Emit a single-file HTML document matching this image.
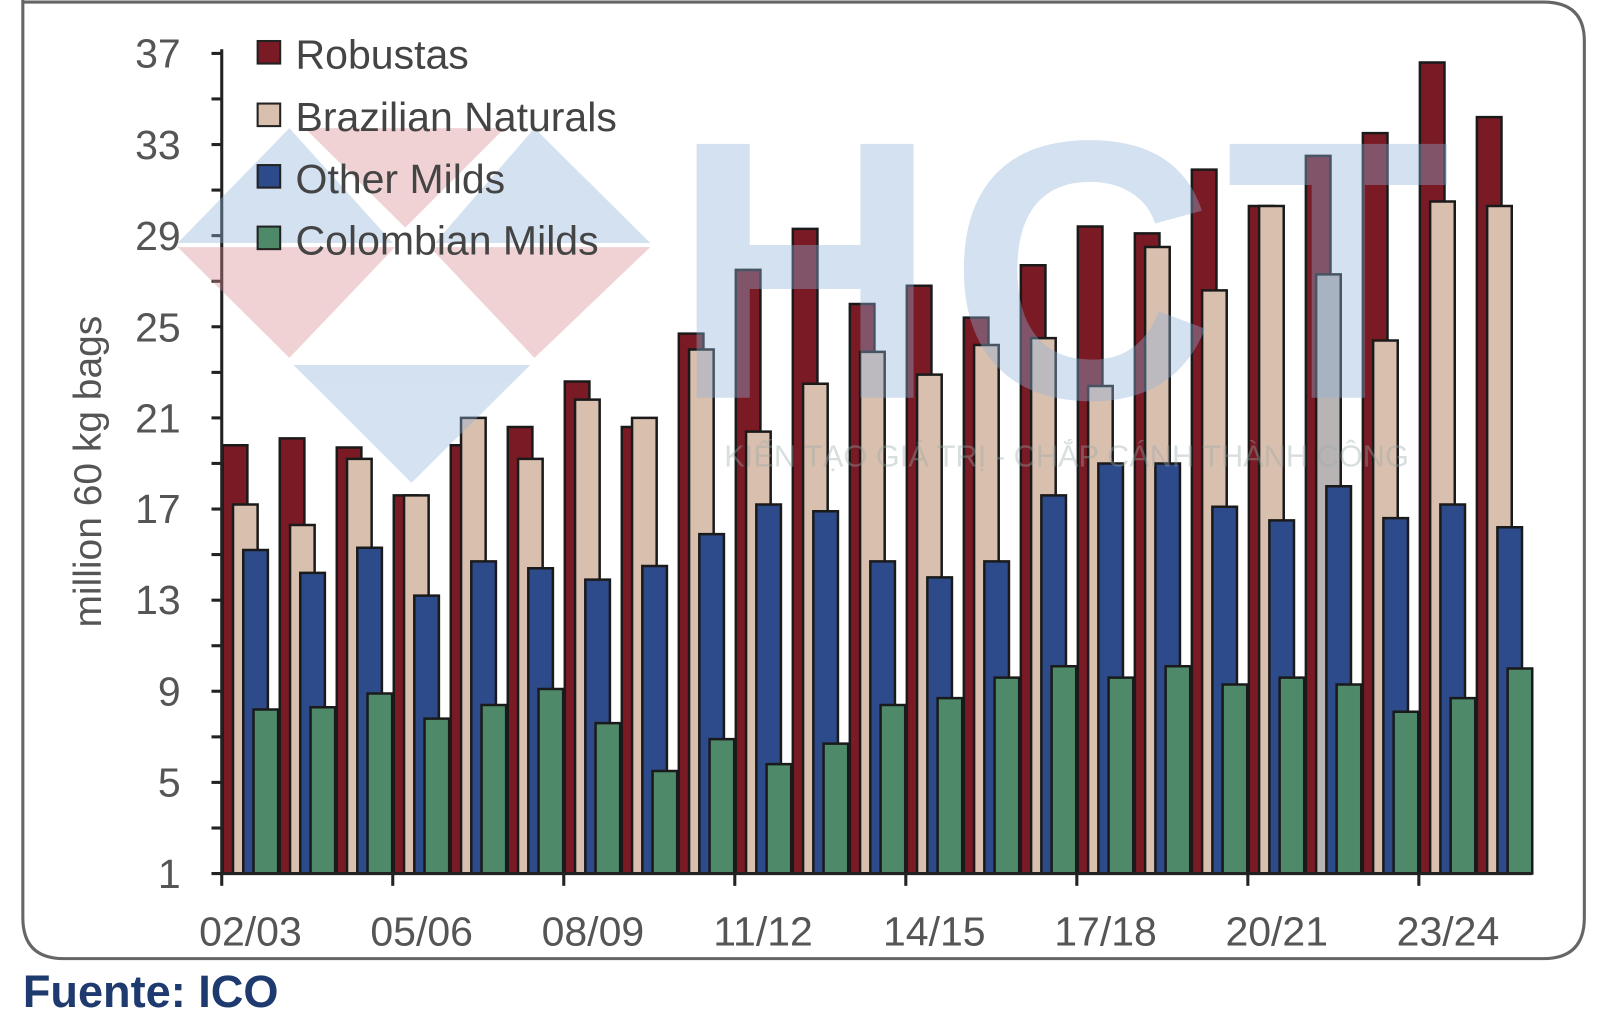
<!DOCTYPE html>
<html><head><meta charset="utf-8"><style>
html,body{margin:0;padding:0;background:#fff;}
svg{display:block;}
text{font-family:"Liberation Sans",sans-serif;}
</style></head><body>
<svg width="1600" height="1014" viewBox="0 0 1560 989" xmlns="http://www.w3.org/2000/svg">
<rect x="0" y="0" width="1560" height="989" fill="#fff"/>
<path d="M22,-2 L22,895 Q22,935 62,935 L1505,935 Q1545,935 1545,895 L1545,40 Q1545,2 1505,2 L22,2" fill="none" stroke="#666" stroke-width="3"/>
<g transform="translate(0,874.22) scale(1,-22.22)" stroke="#1a1a1a" stroke-width="2.5">
<g fill="#7a1a25">
<rect vector-effect="non-scaling-stroke" x="217" y="1" width="24" height="18.8"/>
<rect vector-effect="non-scaling-stroke" x="272.6" y="1" width="24" height="19.1"/>
<rect vector-effect="non-scaling-stroke" x="328.2" y="1" width="24" height="18.7"/>
<rect vector-effect="non-scaling-stroke" x="383.8" y="1" width="24" height="16.6"/>
<rect vector-effect="non-scaling-stroke" x="439.4" y="1" width="24" height="18.8"/>
<rect vector-effect="non-scaling-stroke" x="495" y="1" width="24" height="19.6"/>
<rect vector-effect="non-scaling-stroke" x="550.6" y="1" width="24" height="21.6"/>
<rect vector-effect="non-scaling-stroke" x="606.2" y="1" width="24" height="19.6"/>
<rect vector-effect="non-scaling-stroke" x="661.8" y="1" width="24" height="23.7"/>
<rect vector-effect="non-scaling-stroke" x="717.4" y="1" width="24" height="26.5"/>
<rect vector-effect="non-scaling-stroke" x="773" y="1" width="24" height="28.3"/>
<rect vector-effect="non-scaling-stroke" x="828.6" y="1" width="24" height="25"/>
<rect vector-effect="non-scaling-stroke" x="884.2" y="1" width="24" height="25.8"/>
<rect vector-effect="non-scaling-stroke" x="939.8" y="1" width="24" height="24.4"/>
<rect vector-effect="non-scaling-stroke" x="995.4" y="1" width="24" height="26.7"/>
<rect vector-effect="non-scaling-stroke" x="1051" y="1" width="24" height="28.4"/>
<rect vector-effect="non-scaling-stroke" x="1106.6" y="1" width="24" height="28.1"/>
<rect vector-effect="non-scaling-stroke" x="1162.2" y="1" width="24" height="30.9"/>
<rect vector-effect="non-scaling-stroke" x="1217.8" y="1" width="24" height="29.3"/>
<rect vector-effect="non-scaling-stroke" x="1273.4" y="1" width="24" height="31.5"/>
<rect vector-effect="non-scaling-stroke" x="1329" y="1" width="24" height="32.5"/>
<rect vector-effect="non-scaling-stroke" x="1384.6" y="1" width="24" height="35.6"/>
<rect vector-effect="non-scaling-stroke" x="1440.2" y="1" width="24" height="33.2"/>
</g>
<g fill="#d9bfae">
<rect vector-effect="non-scaling-stroke" x="227" y="1" width="24" height="16.2"/>
<rect vector-effect="non-scaling-stroke" x="282.6" y="1" width="24" height="15.3"/>
<rect vector-effect="non-scaling-stroke" x="338.2" y="1" width="24" height="18.2"/>
<rect vector-effect="non-scaling-stroke" x="393.8" y="1" width="24" height="16.6"/>
<rect vector-effect="non-scaling-stroke" x="449.4" y="1" width="24" height="20"/>
<rect vector-effect="non-scaling-stroke" x="505" y="1" width="24" height="18.2"/>
<rect vector-effect="non-scaling-stroke" x="560.6" y="1" width="24" height="20.8"/>
<rect vector-effect="non-scaling-stroke" x="616.2" y="1" width="24" height="20"/>
<rect vector-effect="non-scaling-stroke" x="671.8" y="1" width="24" height="23"/>
<rect vector-effect="non-scaling-stroke" x="727.4" y="1" width="24" height="19.4"/>
<rect vector-effect="non-scaling-stroke" x="783" y="1" width="24" height="21.5"/>
<rect vector-effect="non-scaling-stroke" x="838.6" y="1" width="24" height="22.9"/>
<rect vector-effect="non-scaling-stroke" x="894.2" y="1" width="24" height="21.9"/>
<rect vector-effect="non-scaling-stroke" x="949.8" y="1" width="24" height="23.2"/>
<rect vector-effect="non-scaling-stroke" x="1005.4" y="1" width="24" height="23.5"/>
<rect vector-effect="non-scaling-stroke" x="1061" y="1" width="24" height="21.4"/>
<rect vector-effect="non-scaling-stroke" x="1116.6" y="1" width="24" height="27.5"/>
<rect vector-effect="non-scaling-stroke" x="1172.2" y="1" width="24" height="25.6"/>
<rect vector-effect="non-scaling-stroke" x="1227.8" y="1" width="24" height="29.3"/>
<rect vector-effect="non-scaling-stroke" x="1283.4" y="1" width="24" height="26.3" fill="#b8b4b4"/>
<rect vector-effect="non-scaling-stroke" x="1339" y="1" width="24" height="23.4"/>
<rect vector-effect="non-scaling-stroke" x="1394.6" y="1" width="24" height="29.5"/>
<rect vector-effect="non-scaling-stroke" x="1450.2" y="1" width="24" height="29.3"/>
</g>
<g fill="#2d4a8a">
<rect vector-effect="non-scaling-stroke" x="237" y="1" width="24" height="14.2"/>
<rect vector-effect="non-scaling-stroke" x="292.6" y="1" width="24" height="13.2"/>
<rect vector-effect="non-scaling-stroke" x="348.2" y="1" width="24" height="14.3"/>
<rect vector-effect="non-scaling-stroke" x="403.8" y="1" width="24" height="12.2"/>
<rect vector-effect="non-scaling-stroke" x="459.4" y="1" width="24" height="13.7"/>
<rect vector-effect="non-scaling-stroke" x="515" y="1" width="24" height="13.4"/>
<rect vector-effect="non-scaling-stroke" x="570.6" y="1" width="24" height="12.9"/>
<rect vector-effect="non-scaling-stroke" x="626.2" y="1" width="24" height="13.5"/>
<rect vector-effect="non-scaling-stroke" x="681.8" y="1" width="24" height="14.9"/>
<rect vector-effect="non-scaling-stroke" x="737.4" y="1" width="24" height="16.2"/>
<rect vector-effect="non-scaling-stroke" x="793" y="1" width="24" height="15.9"/>
<rect vector-effect="non-scaling-stroke" x="848.6" y="1" width="24" height="13.7"/>
<rect vector-effect="non-scaling-stroke" x="904.2" y="1" width="24" height="13"/>
<rect vector-effect="non-scaling-stroke" x="959.8" y="1" width="24" height="13.7"/>
<rect vector-effect="non-scaling-stroke" x="1015.4" y="1" width="24" height="16.6"/>
<rect vector-effect="non-scaling-stroke" x="1071" y="1" width="24" height="18"/>
<rect vector-effect="non-scaling-stroke" x="1126.6" y="1" width="24" height="18"/>
<rect vector-effect="non-scaling-stroke" x="1182.2" y="1" width="24" height="16.1"/>
<rect vector-effect="non-scaling-stroke" x="1237.8" y="1" width="24" height="15.5"/>
<rect vector-effect="non-scaling-stroke" x="1293.4" y="1" width="24" height="17"/>
<rect vector-effect="non-scaling-stroke" x="1349" y="1" width="24" height="15.6"/>
<rect vector-effect="non-scaling-stroke" x="1404.6" y="1" width="24" height="16.2"/>
<rect vector-effect="non-scaling-stroke" x="1460.2" y="1" width="24" height="15.2"/>
</g>
<g fill="#4e8a6a">
<rect vector-effect="non-scaling-stroke" x="247" y="1" width="24" height="7.2"/>
<rect vector-effect="non-scaling-stroke" x="302.6" y="1" width="24" height="7.3"/>
<rect vector-effect="non-scaling-stroke" x="358.2" y="1" width="24" height="7.9"/>
<rect vector-effect="non-scaling-stroke" x="413.8" y="1" width="24" height="6.8"/>
<rect vector-effect="non-scaling-stroke" x="469.4" y="1" width="24" height="7.4"/>
<rect vector-effect="non-scaling-stroke" x="525" y="1" width="24" height="8.1"/>
<rect vector-effect="non-scaling-stroke" x="580.6" y="1" width="24" height="6.6"/>
<rect vector-effect="non-scaling-stroke" x="636.2" y="1" width="24" height="4.5"/>
<rect vector-effect="non-scaling-stroke" x="691.8" y="1" width="24" height="5.9"/>
<rect vector-effect="non-scaling-stroke" x="747.4" y="1" width="24" height="4.8"/>
<rect vector-effect="non-scaling-stroke" x="803" y="1" width="24" height="5.7"/>
<rect vector-effect="non-scaling-stroke" x="858.6" y="1" width="24" height="7.4"/>
<rect vector-effect="non-scaling-stroke" x="914.2" y="1" width="24" height="7.7"/>
<rect vector-effect="non-scaling-stroke" x="969.8" y="1" width="24" height="8.6"/>
<rect vector-effect="non-scaling-stroke" x="1025.4" y="1" width="24" height="9.1"/>
<rect vector-effect="non-scaling-stroke" x="1081" y="1" width="24" height="8.6"/>
<rect vector-effect="non-scaling-stroke" x="1136.6" y="1" width="24" height="9.1"/>
<rect vector-effect="non-scaling-stroke" x="1192.2" y="1" width="24" height="8.3"/>
<rect vector-effect="non-scaling-stroke" x="1247.8" y="1" width="24" height="8.6"/>
<rect vector-effect="non-scaling-stroke" x="1303.4" y="1" width="24" height="8.3"/>
<rect vector-effect="non-scaling-stroke" x="1359" y="1" width="24" height="7.1"/>
<rect vector-effect="non-scaling-stroke" x="1414.6" y="1" width="24" height="7.7"/>
<rect vector-effect="non-scaling-stroke" x="1470.2" y="1" width="24" height="9"/>
</g>
</g>
<!-- axes -->
<g stroke="#222" stroke-width="3">
<line x1="216" y1="48" x2="216" y2="853"/>
<line x1="206" y1="852" x2="1494" y2="852"/>
<line x1="206" y1="807.6" x2="216" y2="807.6"/><line x1="206" y1="763.1" x2="216" y2="763.1"/>
<line x1="206" y1="718.7" x2="216" y2="718.7"/><line x1="206" y1="674.2" x2="216" y2="674.2"/>
<line x1="206" y1="629.8" x2="216" y2="629.8"/><line x1="206" y1="585.4" x2="216" y2="585.4"/>
<line x1="206" y1="540.9" x2="216" y2="540.9"/><line x1="206" y1="496.5" x2="216" y2="496.5"/>
<line x1="206" y1="452" x2="216" y2="452"/><line x1="206" y1="407.6" x2="216" y2="407.6"/>
<line x1="206" y1="363.2" x2="216" y2="363.2"/><line x1="206" y1="318.7" x2="216" y2="318.7"/>
<line x1="206" y1="274.3" x2="216" y2="274.3"/><line x1="206" y1="229.8" x2="216" y2="229.8"/>
<line x1="206" y1="185.4" x2="216" y2="185.4"/><line x1="206" y1="141" x2="216" y2="141"/>
<line x1="206" y1="96.5" x2="216" y2="96.5"/><line x1="206" y1="52.1" x2="216" y2="52.1"/>
<line x1="216" y1="852" x2="216" y2="864"/><line x1="382.8" y1="852" x2="382.8" y2="864"/>
<line x1="549.6" y1="852" x2="549.6" y2="864"/><line x1="716.4" y1="852" x2="716.4" y2="864"/>
<line x1="883.2" y1="852" x2="883.2" y2="864"/><line x1="1050" y1="852" x2="1050" y2="864"/>
<line x1="1216.8" y1="852" x2="1216.8" y2="864"/><line x1="1383.6" y1="852" x2="1383.6" y2="864"/>
</g>
<g font-size="40" fill="#555" text-anchor="end">
<text x="176" y="866">1</text><text x="176" y="777">5</text><text x="176" y="688">9</text>
<text x="176" y="599">13</text><text x="176" y="510">17</text><text x="176" y="422">21</text>
<text x="176" y="333">25</text><text x="176" y="244">29</text><text x="176" y="155">33</text>
<text x="176" y="66">37</text>
</g>
<g font-size="40" fill="#555" text-anchor="middle">
<text x="244" y="922">02/03</text><text x="411" y="922">05/06</text><text x="578" y="922">08/09</text>
<text x="744" y="922">11/12</text><text x="911" y="922">14/15</text><text x="1078" y="922">17/18</text>
<text x="1245" y="922">20/21</text><text x="1412" y="922">23/24</text>
</g>
<!-- watermark -->
<g opacity="0.38">
<polygon points="173,237 282,125 383,237" fill="#8fb3d9"/>
<polygon points="297,125 492,125 395,222" fill="#d98a8f"/>
<polygon points="424,237 521,125 634,237" fill="#8fb3d9"/>
<polygon points="173,241 385,241 282,349" fill="#d98a8f"/>
<polygon points="419,241 634,241 521,349" fill="#d98a8f"/>
<polygon points="286,356 517,356 401,471" fill="#8fb3d9"/>
<text x="1040" y="388" font-size="360" font-weight="bold" fill="#8fb3d9" text-anchor="middle" letter-spacing="10">HCT</text>
<text x="1040" y="455" font-size="30" fill="#9aa" text-anchor="middle">KIẾN TẠO GIÁ TRỊ - CHẮP CÁNH THÀNH CÔNG</text>
</g>
<g font-size="40" fill="#444">
<rect x="251" y="40" width="22" height="22" fill="#7a1a25" stroke="#222" stroke-width="2"/>
<text x="288" y="67">Robustas</text>
<rect x="251" y="101" width="22" height="22" fill="#d9bfae" stroke="#222" stroke-width="2"/>
<text x="288" y="128">Brazilian Naturals</text>
<rect x="251" y="161" width="22" height="22" fill="#2d4a8a" stroke="#222" stroke-width="2"/>
<text x="288" y="188">Other Milds</text>
<rect x="251" y="221" width="22" height="22" fill="#4e8a6a" stroke="#222" stroke-width="2"/>
<text x="288" y="248">Colombian Milds</text>
</g>
<text transform="translate(98,460) rotate(-90)" font-size="38" fill="#555" text-anchor="middle">million 60 kg bags</text>
<text x="22" y="982" font-size="44" font-weight="bold" fill="#1f3a6e">Fuente: ICO</text>
</svg>
</body></html>
